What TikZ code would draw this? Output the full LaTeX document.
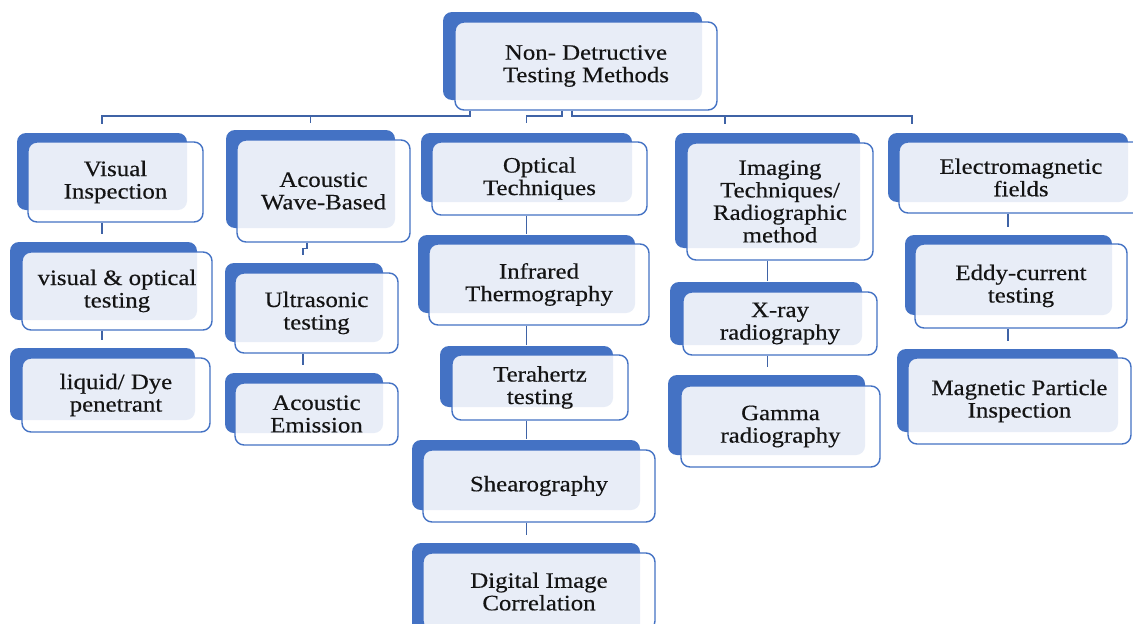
\documentclass[tikz,border=0pt]{standalone}
\usepackage{fontspec}
\setmainfont{Liberation Serif}[FakeStretch=1.13,FakeBold=0.35]
\usetikzlibrary{fit,calc}
\definecolor{nblue}{HTML}{4472C4}
\definecolor{lblue}{HTML}{3F63A6}
\pgfdeclarelayer{bg}
\pgfsetlayers{bg,main}
\tikzset{
 backbox/.style={fill=nblue, draw=none, rounded corners=9pt, inner sep=0pt},
 frontbox/.style={fill=white, fill opacity=0.88, draw=nblue, line width=1.4pt,
   rounded corners=9pt, inner sep=0pt},
 txt/.style={align=center, inner sep=0pt, font=\fontsize{22}{22.5}\selectfont, text=black!92},
 conn/.style={draw=lblue, line width=1.4pt}
}
\newcommand\tbox[6]{\node[backbox, fit={#2 #3}] (#1b) {}; \node[frontbox, fit={#4 #5}] (#1) {}; \node[txt] (#1t) at (#1.center) {#6};}
\begin{document}
\begin{tikzpicture}[x=1pt,y=-1pt]
\useasboundingbox (0,0) rectangle (1133,624);
% boxes
\tbox{root}{(443,12)}{(702,100)}{(455,22)}{(717,110)}{Non- Detructive\\Testing Methods}
\tbox{vis}{(17,133)}{(187,210)}{(28,142)}{(203,222)}{Visual\\Inspection}
\tbox{visA}{(10,242)}{(197,320)}{(22,252)}{(212,330)}{visual \& optical\\testing}
\tbox{visB}{(10,348)}{(195,420)}{(22,358)}{(210,432)}{liquid/ Dye\\penetrant}
\tbox{ac}{(226,130)}{(395,228)}{(237,140)}{(410,242)}{Acoustic\\Wave-Based}
\tbox{acA}{(225,263)}{(383,342)}{(235,273)}{(398,353)}{Ultrasonic\\testing}
\tbox{acB}{(225,373)}{(383,433)}{(235,383)}{(398,445)}{Acoustic\\Emission}
\tbox{op}{(421,133)}{(632,202)}{(432,142)}{(647,215)}{Optical\\Techniques}
\tbox{opA}{(418,235)}{(635,313)}{(429,244)}{(649,325)}{Infrared\\Thermography}
\tbox{opB}{(440,346)}{(613,407)}{(452,355)}{(628,420)}{Terahertz\\testing}
\tbox{opC}{(412,440)}{(640,510)}{(423,450)}{(655,522)}{Shearography}
\tbox{opD}{(412,543)}{(640,640)}{(423,553)}{(655,630)}{Digital Image\\Correlation}
\tbox{im}{(675,133)}{(860,248)}{(687,143)}{(873,260)}{Imaging\\Techniques/\\Radiographic\\method}
\tbox{imA}{(670,282)}{(862,345)}{(683,292)}{(877,355)}{X-ray\\radiography}
\tbox{imB}{(668,375)}{(865,455)}{(681,386)}{(880,467)}{Gamma\\radiography}
\tbox{em}{(888,133)}{(1128,202)}{(899,142)}{(1143,213)}{Electromagnetic\\fields}
\tbox{emA}{(905,235)}{(1112,315)}{(915,244)}{(1127,328)}{Eddy-current\\testing}
\tbox{emB}{(897,349)}{(1118,432)}{(908,358)}{(1131,444)}{Magnetic Particle\\Inspection}
% connectors
\begin{pgfonlayer}{bg}
\fill[white] (0,0) rectangle (1133,624);
\coordinate (bus) at (0,116);
\draw[conn] (root.south -| 470,0) |- (bus -| visb.north) -- ++(0,8);
\draw[conn] (root.south -| 470,0) |- (bus -| acb.north) -- ++(0,7);
\draw[conn] (root.south -| 562,0) |- (bus -| opb.north) -- ++(0,7);
\draw[conn] (root.south -| 572,0) |- (bus -| 725,0) -- ++(0,8);
\draw[conn] (root.south -| 572,0) |- (bus -| 912,0) -- ++(0,8);
% chains
\draw[conn] (vis.south -| visb.north) -- ($(visAb.north -| visb.north)+(0,-8)$);
\draw[conn] (visA.south -| visb.north) -- ($(visBb.north -| visb.north)+(0,-8)$);
\draw[conn] (ac.south -| 307,0) -- ++(0,6) -- ++(-4,0) -- ($(acAb.north -| 303,0)+(0,-8)$);
\draw[conn] (acA.south -| 303,0) -- ($(acBb.north -| 303,0)+(0,-8)$);
\draw[conn] (op.south -| opb.north) -- ($(opAb.north -| opb.north)+(0,-1)$);
\draw[conn] (opA.south -| opb.north) -- ($(opBb.north -| opb.north)+(0,-1)$);
\draw[conn] (opB.south -| opb.north) -- ($(opCb.north -| opb.north)+(0,-1)$);
\draw[conn] (opC.south -| opb.north) -- ($(opDb.north -| opb.north)+(0,-8)$);
\draw[conn] (im.south -| imb.north) -- ($(imAb.north -| imb.north)+(0,-1)$);
\draw[conn] (imA.south -| imb.north) -- ($(imBb.north -| imb.north)+(0,-8)$);
\draw[conn] (em.south -| emb.north) -- ($(emAb.north -| emb.north)+(0,-8)$);
\draw[conn] (emA.south -| emb.north) -- ($(emBb.north -| emb.north)+(0,-8)$);
\end{pgfonlayer}
\end{tikzpicture}
\end{document}
